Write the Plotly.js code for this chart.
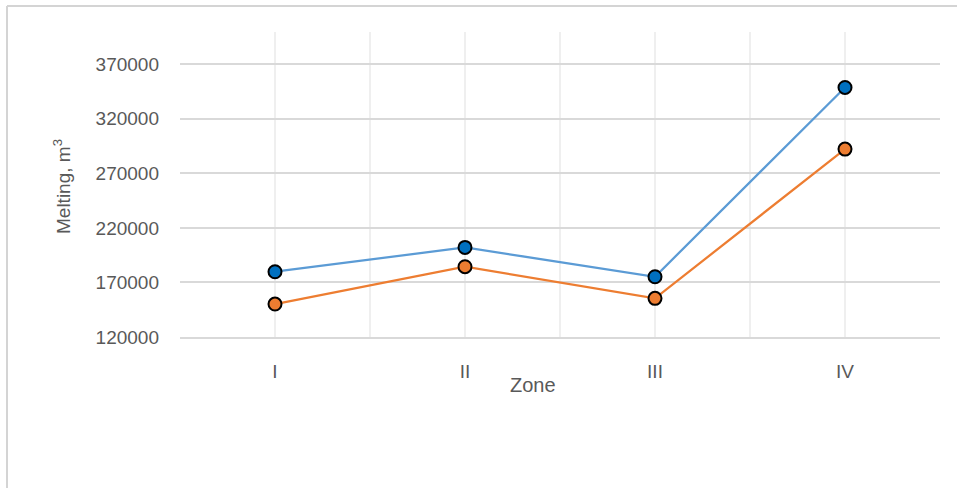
<!DOCTYPE html>
<html><head><meta charset="utf-8">
<script src="https://cdn.plot.ly/plotly-3.0.1.min.js"></script>
<style>html,body{margin:0;padding:0;background:#fff;}#chart{width:957px;height:488px;}</style>
</head><body><div id="chart"></div>
<script>
const zones = ["I", "II", "III", "IV"];
const series1 = [179800, 202100, 175200, 348700];
const series2 = [150200, 184400, 155400, 292200];
const yTicks = [120000, 170000, 220000, 270000, 320000, 370000];

const W = 957, H = 488;
const mL = 180, mR = 17, mT = 32, mB = 151;
const pw = W - mL - mR, ph = H - mT - mB;
const px = x => (x - mL) / pw;
const py = y => (H - mB - y) / ph;

const xIdx = zones.map((z, i) => i);
const halfVals = [-0.5, 0.5, 1.5, 2.5, 3.5];

const font = "'Liberation Sans', Arial, sans-serif";
const traces = [
  {x: xIdx, y: series1, type: "scatter", mode: "lines+markers",
   line: {color: "#5B9BD5", width: 2.25},
   marker: {color: "#0070C0", size: 13, line: {color: "#000", width: 2}}},
  {x: xIdx, y: series2, type: "scatter", mode: "lines+markers",
   line: {color: "#ED7D31", width: 2.25},
   marker: {color: "#ED7D31", size: 13, line: {color: "#000", width: 2}}}
];
const layout = {
  width: W, height: H, showlegend: false,
  margin: {l: mL, r: mR, t: mT, b: mB, pad: 0},
  paper_bgcolor: "#fff", plot_bgcolor: "#fff",
  font: {family: font, color: "#595959", size: 19},
  xaxis: {range: [-0.5, 3.5], tickvals: xIdx, ticktext: zones,
    showgrid: true, gridcolor: "#efefef", gridwidth: 2, zeroline: false,
    minor: {tickvals: halfVals, showgrid: true, gridcolor: "#efefef", gridwidth: 2, ticks: ""},
    showline: true, linecolor: "#d9d9d9", linewidth: 2, ticks: "",
    ticklabelstandoff: 16, tickfont: {size: 19, color: "#595959"}},
  yaxis: {range: [120000, 399500], tickvals: yTicks, ticktext: yTicks.map(String),
    showgrid: true, gridcolor: "#d9d9d9", gridwidth: 2, zeroline: false,
    showline: false, ticks: "", ticklabelstandoff: 20,
    tickfont: {size: 19, color: "#595959"}},
  annotations: [
    {text: "Zone", xref: "paper", yref: "paper", x: px(533), y: py(385),
     showarrow: false, font: {size: 20, color: "#595959"}, xanchor: "center", yanchor: "middle"},
    {text: "Melting, m<sup>3</sup>", xref: "paper", yref: "paper", x: px(62), y: py(186),
     showarrow: false, textangle: -90, font: {size: 19, color: "#595959"}, xanchor: "center", yanchor: "middle"}
  ],
  shapes: [
    {type: "line", xref: "paper", yref: "paper", x0: px(7), x1: px(960), y0: py(6), y1: py(6),
     line: {color: "#d4d4d4", width: 2}},
    {type: "line", xref: "paper", yref: "paper", x0: px(7), x1: px(7), y0: py(6), y1: py(492),
     line: {color: "#d4d4d4", width: 2}}
  ]
};
Plotly.newPlot("chart", traces, layout, {displayModeBar: false, staticPlot: true});
</script></body></html>
